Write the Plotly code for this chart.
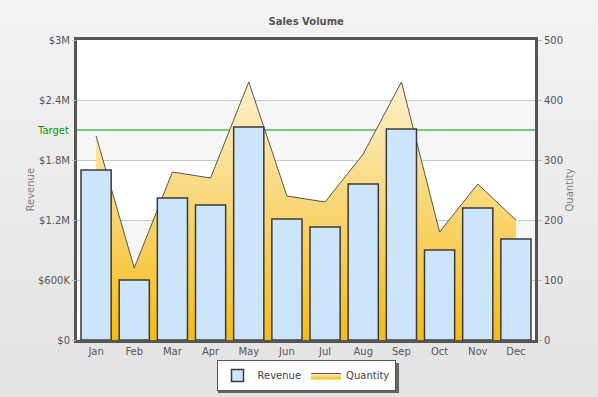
import plotly.graph_objects as go

months = ["Jan", "Feb", "Mar", "Apr", "May", "Jun", "Jul", "Aug", "Sep", "Oct", "Nov", "Dec"]
revenue = [1700000, 600000, 1420000, 1350000, 2130000, 1210000, 1130000, 1560000, 2110000, 900000, 1320000, 1010000]
quantity = [340, 120, 280, 270, 430, 240, 230, 310, 430, 180, 260, 200]
target_revenue = 2100000
rev_tickvals = [0, 600000, 1200000, 1800000, 2400000, 3000000]
rev_ticktext = ["$0", "$600K", "$1.2M", "$1.8M", "$2.4M", "$3M"]
qty_tickvals = [0, 100, 200, 300, 400, 500]

FONT = "DejaVu Sans"
W, H = 598, 397
L, R, T, B = 77, 63, 40, 57
PW = W - L - R
PH = H - T - B

fig = go.Figure()

fig.add_trace(go.Scatter(
    x=months, y=quantity, name="Quantity", yaxis="y", mode="lines",
    line=dict(color="#555555", width=1),
    fill="tozeroy",
    fillgradient=dict(type="vertical", start=0, stop=max(quantity),
                      colorscale=[[0, "#F6BC14"], [0.5, "#F9D572"], [1, "#FDF1CD"]]),
))
fig.add_trace(go.Bar(
    x=months, y=revenue, name="Revenue", yaxis="y2",
    marker=dict(color="#CDE5FA", line=dict(color="#3A3A3A", width=1.5)),
))

shapes = []
# background gradient of the canvas
n = 30
top_pad = T / PH
bot_pad = B / PH
for i in range(n):
    y0 = -bot_pad + (1 + top_pad + bot_pad) * i / n
    y1 = -bot_pad + (1 + top_pad + bot_pad) * (i + 1) / n + 0.004
    g = int(0xE3 + (0xF3 - 0xE3) * (i + 0.5) / n)
    shapes.append(dict(type="rect", xref="paper", yref="paper", x0=-1, x1=2, y0=y0, y1=y1,
                       fillcolor=f"rgb({g},{g},{g})", line=dict(width=0), layer="below"))
shapes.append(dict(type="rect", xref="paper", yref="paper", x0=0, x1=1, y0=0, y1=1,
                   fillcolor="white", line=dict(width=0), layer="below"))
for lo, hi in [(100, 200), (300, 400)]:
    shapes.append(dict(type="rect", xref="paper", yref="y", x0=0, x1=1, y0=lo, y1=hi,
                       fillcolor="#F6F6F6", line=dict(width=0), layer="below"))
shapes.append(dict(type="line", xref="paper", yref="y2", x0=0, x1=1, y0=target_revenue, y1=target_revenue,
                   line=dict(color="#009A00", width=1.2), layer="between"))
# legend shadow
shapes.append(dict(type="rect", xref="paper", yref="paper",
                   x0=(218 - L) / PW, x1=(399 - L) / PW,
                   y0=(H - B - 393) / PH, y1=(H - B - 363) / PH,
                   fillcolor="#666666", line=dict(width=0), layer="below"))

fig.update_layout(
    width=W, height=H,
    margin=dict(l=L, r=R, t=T, b=B, autoexpand=False),
    paper_bgcolor="#EBEBEB", plot_bgcolor="white",
    font=dict(family=FONT, size=10, color="#555555"),
    title=dict(text="<b>Sales Volume</b>", x=0.512, xref="container", xanchor="center",
               y=1 - 21 / H, yref="container", yanchor="middle",
               font=dict(family=FONT, size=10, color="#555555")),
    bargap=0.21,
    showlegend=True,
    legend=dict(orientation="h", xref="paper", yref="paper",
                x=(306 - L) / PW, xanchor="center", y=(H - B - 375.5) / PH, yanchor="middle",
                bgcolor="white", bordercolor="#555555", borderwidth=1,
                font=dict(family=FONT, size=10, color="#444444"),
                traceorder="reversed", itemwidth=30),
    xaxis=dict(showline=True, linecolor="#555555", linewidth=3, mirror=True,
               ticks="", tickfont=dict(size=10, color="#555555"), showgrid=False),
    yaxis=dict(side="right", range=[0, 500], tickvals=qty_tickvals, showgrid=True,
               gridcolor="#C8C8C8", gridwidth=1, showline=True, linecolor="#555555",
               linewidth=3, mirror=True, ticks="outside", ticklen=4, tickcolor="#BBBBBB",
               zeroline=False, tickfont=dict(size=10, color="#555555")),
    yaxis2=dict(side="left", overlaying="y", range=[0, 3000000], tickvals=rev_tickvals,
                ticktext=rev_ticktext, showgrid=False, zeroline=False, ticks="outside",
                ticklen=4, tickcolor="#BBBBBB", tickfont=dict(size=10, color="#555555")),
    shapes=shapes,
    annotations=[
        dict(text="Target", xref="paper", yref="y2", x=0, y=target_revenue, xanchor="right",
             yanchor="middle", xshift=-6, showarrow=False,
             font=dict(family=FONT, size=10, color="#009A00")),
        dict(text="Revenue", xref="paper", yref="paper", x=(22 - L) / PW, y=0.5,
             textangle=-90, showarrow=False, font=dict(family=FONT, size=10, color="#808080")),
        dict(text="Quantity", xref="paper", yref="paper", x=(576 - L) / PW, y=0.5,
             textangle=-90, showarrow=False, font=dict(family=FONT, size=10, color="#808080")),
    ],
)

fig.write_html("out.html", config={"displayModeBar": False},
               post_script="document.body.style.margin='0';document.body.style.overflow='hidden';")
